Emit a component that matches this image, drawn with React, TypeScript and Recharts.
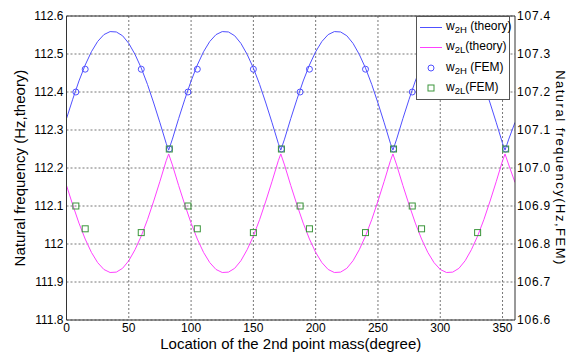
import React from "react";
import {
  ComposedChart,
  Line,
  Scatter,
  XAxis,
  YAxis,
  CartesianGrid,
  Legend,
  ReferenceLine,
} from "recharts";

// Theory curves (left axis, Hz)
const thetaDeg = [
  0, 5, 10, 15, 20, 25, 30, 35, 40, 45, 50, 55, 60, 65, 70, 75, 80, 82, 85,
  90, 95, 100, 105, 110, 115, 120, 125, 130, 135, 140, 145, 150, 155, 160, 165, 170, 172, 175,
  180, 185, 190, 195, 200, 205, 210, 215, 220, 225, 230, 235, 240, 245, 250, 255, 260, 262, 265,
  270, 275, 280, 285, 290, 295, 300, 305, 310, 315, 320, 325, 330, 335, 340, 345, 350, 352, 355,
  360,
];
const w2HTheory = [
  112.330, 112.381, 112.429, 112.471, 112.506, 112.533, 112.551, 112.559, 112.558, 112.548, 112.528, 112.499, 112.463, 112.420, 112.371, 112.319, 112.265, 112.247, 112.276,
  112.330, 112.381, 112.429, 112.471, 112.506, 112.533, 112.551, 112.559, 112.558, 112.548, 112.528, 112.499, 112.463, 112.420, 112.371, 112.319, 112.265, 112.247, 112.276,
  112.330, 112.381, 112.429, 112.471, 112.506, 112.533, 112.551, 112.559, 112.558, 112.548, 112.528, 112.499, 112.463, 112.420, 112.371, 112.319, 112.265, 112.247, 112.276,
  112.330, 112.381, 112.429, 112.471, 112.506, 112.533, 112.551, 112.559, 112.558, 112.548, 112.528, 112.499, 112.463, 112.420, 112.371, 112.319, 112.265, 112.247, 112.276,
  112.320,
];
const w2LTheory = [
  112.154, 112.103, 112.055, 112.013, 111.978, 111.951, 111.933, 111.925, 111.926, 111.936, 111.956, 111.985, 112.021, 112.064, 112.113, 112.165, 112.219, 112.237, 112.208,
  112.154, 112.103, 112.055, 112.013, 111.978, 111.951, 111.933, 111.925, 111.926, 111.936, 111.956, 111.985, 112.021, 112.064, 112.113, 112.165, 112.219, 112.237, 112.208,
  112.154, 112.103, 112.055, 112.013, 111.978, 111.951, 111.933, 111.925, 111.926, 111.936, 111.956, 111.985, 112.021, 112.064, 112.113, 112.165, 112.219, 112.237, 112.208,
  112.154, 112.103, 112.055, 112.013, 111.978, 111.951, 111.933, 111.925, 111.926, 111.936, 111.956, 111.985, 112.021, 112.064, 112.113, 112.165, 112.219, 112.237, 112.208,
  112.162,
];

// FEM results (right axis, Hz)
const femDeg = [7.5, 15, 60, 82.5, 97.5, 105, 150, 172.5, 187.5, 195, 240, 262.5, 277.5, 285, 330, 352.5];
const w2HFem = [107.2, 107.26, 107.26, 107.05, 107.2, 107.26, 107.26, 107.05, 107.2, 107.26, 107.26, 107.05, 107.2, 107.26, 107.26, 107.05];
const w2LFem = [106.9, 106.84, 106.83, 107.05, 106.9, 106.84, 106.83, 107.05, 106.9, 106.84, 106.83, 107.05, 106.9, 106.84, 106.83, 107.05];

const xTicks = [0, 50, 100, 150, 200, 250, 300, 350];
const leftTicks = [111.8, 111.9, 112, 112.1, 112.2, 112.3, 112.4, 112.5, 112.6];
const leftTickLabels = ["111.8", "111.9", "112", "112.1", "112.2", "112.3", "112.4", "112.5", "112.6"];
const rightTicks = [106.6, 106.7, 106.8, 106.9, 107.0, 107.1, 107.2, 107.3, 107.4];
const rightTickLabels = ["106.6", "106.7", "106.8", "106.9", "107.0", "107.1", "107.2", "107.3", "107.4"];

const highData = thetaDeg.map((x, i) => ({ x, y: w2HTheory[i] }));
const lowData = thetaDeg.map((x, i) => ({ x, y: w2LTheory[i] }));
const highFem = femDeg.map((x, i) => ({ x, y: w2HFem[i] }));
const lowFem = femDeg.map((x, i) => ({ x, y: w2LFem[i] }));

const BLUE = "#5050ff";
const PINK = "#ff40ff";
const GREEN = "#3c963c";
const FONT = "'Liberation Sans', Arial, sans-serif";

const CircleShape = (props: any) => {
  const { cx, cy } = props;
  if (cx == null || cy == null) return null;
  return <circle cx={cx} cy={cy} r={3} fill="none" stroke={BLUE} strokeWidth={1} />;
};
const SquareShape = (props: any) => {
  const { cx, cy } = props;
  if (cx == null || cy == null) return null;
  return <rect x={cx - 3} y={cy - 3} width={6} height={6} fill="none" stroke={GREEN} strokeWidth={1} />;
};

const Sub = ({ children }: { children: React.ReactNode }) => (
  <span style={{ fontSize: 9.5, verticalAlign: "-3px" }}>{children}</span>
);

const LegendBox = () => {
  const row: React.CSSProperties = {
    display: "flex",
    alignItems: "center",
    height: 20.3,
    whiteSpace: "nowrap",
  };
  const sample: React.CSSProperties = { width: 22, marginLeft: 3, marginRight: 4, display: "flex", justifyContent: "center", alignItems: "center" };
  return (
    <div
      style={{
        width: 94,
        height: 84,
        boxSizing: "border-box",
        border: "1px solid #555",
        background: "#fff",
        fontFamily: FONT,
        fontSize: 12,
        color: "#000",
        paddingTop: 0,
      }}
    >
      <div style={row}>
        <div style={sample}><div style={{ width: 22, height: 1, background: BLUE }} /></div>
        <span>w<Sub>2H</Sub> (theory)</span>
      </div>
      <div style={row}>
        <div style={sample}><div style={{ width: 22, height: 1, background: PINK }} /></div>
        <span>w<Sub>2L</Sub>(theory)</span>
      </div>
      <div style={row}>
        <div style={sample}>
          <svg width={8} height={8}><circle cx={4} cy={4} r={3} fill="none" stroke={BLUE} /></svg>
        </div>
        <span>w<Sub>2H</Sub> (FEM)</span>
      </div>
      <div style={row}>
        <div style={sample}>
          <svg width={8} height={8}><rect x={1} y={1} width={6} height={6} fill="none" stroke={GREEN} /></svg>
        </div>
        <span>w<Sub>2L</Sub>(FEM)</span>
      </div>
    </div>
  );
};

export default function App() {
  return (
    <div style={{ position: "absolute", left: 0, top: 0, width: 573, height: 352, background: "#fff" }}>
      <ComposedChart
        width={573}
        height={352}
        margin={{ top: 16, right: 0, bottom: 0, left: 0 }}
        style={{ fontFamily: FONT }}
      >
        <CartesianGrid stroke="#777" strokeDasharray="2 2" yAxisId="left" horizontalValues={leftTicks} verticalValues={xTicks} />
        <XAxis
          type="number"
          dataKey="x"
          domain={[0, 360]}
          ticks={xTicks}
          allowDataOverflow
          height={32}
          tickSize={3}
          tickMargin={0}
          tickLine={false}
          axisLine={{ stroke: "#333" }}
          tick={{ fill: "#000", fontSize: 12 }}
          label={{ value: "Location of the 2nd point mass(degree)", position: "insideBottom", offset: 3, fill: "#000", fontSize: 15 }}
        />
        <YAxis
          yAxisId="left"
          orientation="left"
          type="number"
          domain={[111.8, 112.6]}
          ticks={leftTicks}
          allowDataOverflow
          width={66.5}
          tickSize={3}
          tickMargin={0}
          tickLine={false}
          axisLine={{ stroke: "#333" }}
          tick={{ fill: "#000", fontSize: 12 }}
          tickFormatter={(v: number) => leftTickLabels[leftTicks.findIndex((t) => Math.abs(t - v) < 1e-6)] ?? String(v)}
          label={{ value: "Natural frequency (Hz,theory)", angle: -90, position: "insideLeft", offset: 20, fill: "#000", fontSize: 15, style: { textAnchor: "middle" } }}
        />
        <YAxis
          yAxisId="right"
          orientation="right"
          type="number"
          domain={[106.6, 107.4]}
          ticks={rightTicks}
          allowDataOverflow
          width={58}
          tickSize={2}
          tickMargin={0}
          tickLine={false}
          axisLine={{ stroke: "#333" }}
          tick={{ fill: "#000", fontSize: 12, letterSpacing: 0.8 }}
          tickFormatter={(v: number) => rightTickLabels[rightTicks.findIndex((t) => Math.abs(t - v) < 1e-6)] ?? String(v)}
          label={{ value: "Natural frequency(Hz,FEM)", angle: 90, position: "insideRight", offset: 12, fill: "#000", fontSize: 13, style: { textAnchor: "middle", letterSpacing: 1.5 } }}
        />
        <ReferenceLine yAxisId="left" y={112.6} stroke="#333" />
        <Line
          yAxisId="left"
          data={highData}
          dataKey="y"
          type="linear"
          stroke={BLUE}
          strokeWidth={1}
          dot={false}
          isAnimationActive={false}
          name="w2H (theory)"
        />
        <Line
          yAxisId="left"
          data={lowData}
          dataKey="y"
          type="linear"
          stroke={PINK}
          strokeWidth={1}
          dot={false}
          isAnimationActive={false}
          name="w2L(theory)"
        />
        <Scatter yAxisId="right" data={highFem} dataKey="y" shape={<CircleShape />} isAnimationActive={false} name="w2H (FEM)" />
        <Scatter yAxisId="right" data={lowFem} dataKey="y" shape={<SquareShape />} isAnimationActive={false} name="w2L(FEM)" />
        <Legend
          layout="vertical"
          align="center"
          verticalAlign="middle"
          content={() => <LegendBox />}
          wrapperStyle={{ left: 416, top: 16, width: 94, height: 84 }}
        />
      </ComposedChart>
    </div>
  );
}
